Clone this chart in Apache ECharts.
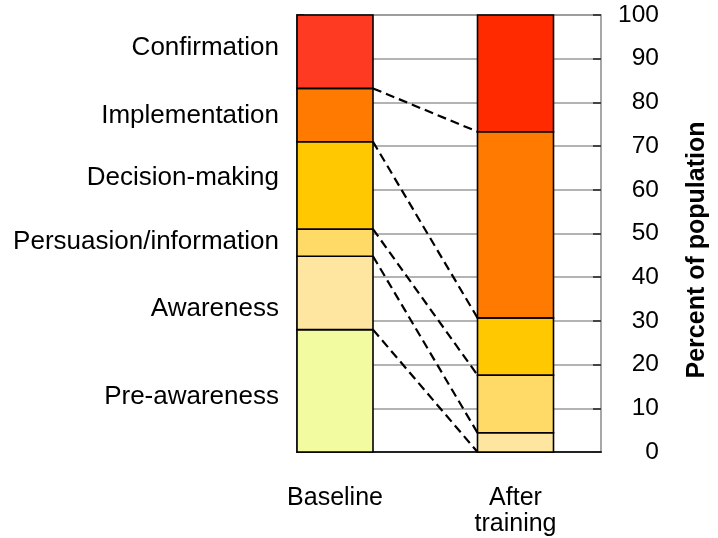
<!DOCTYPE html>
<html><head><meta charset="utf-8">
<script src="https://cdn.jsdelivr.net/npm/echarts@6/dist/echarts.min.js"></script>
<style>html,body{margin:0;padding:0;background:#fff}#c{width:718px;height:538px}</style>
</head><body><div id="c"></div>
<script>
// ---- data ----
const stages = ['Pre-awareness', 'Awareness', 'Persuasion/information', 'Decision-making', 'Implementation', 'Confirmation'];
const groups = ['Baseline', 'After\ntraining'];
const baseline = [28, 16.8, 6.2, 20, 12.2, 16.8];
const afterTraining = [0, 4.4, 13.2, 13.1, 42.6, 26.7];
const yAxisTitle = 'Percent of population';

// ---- styles / layout ----
const baselineColors = ['#F3FBA0', '#FFE6A0', '#FFDA66', '#FFC800', '#FF7A00', '#FF3A22'];
const afterColors = ['#F3FBA0', '#FFE6A0', '#FFDA66', '#FFC800', '#FF7A00', '#FF2A00'];
const labelOffsets = [6, 16, -1, -8, 1, -4];
const groupX = [1, 5.75];
const barHalf = 1;
const FONT = 'Liberation Sans';

const cum = arr => arr.reduce((acc, v) => { acc.push((acc.length ? acc[acc.length - 1] : 0) + v); return acc; }, []);
const cumB = cum(baseline), cumA = cum(afterTraining);

const series = [];
stages.forEach((name, i) => {
  const loB = i ? cumB[i - 1] : 0, loA = i ? cumA[i - 1] : 0;
  const colors = [baselineColors[i], afterColors[i]];
  series.push({
    type: 'custom', name, z: 2,
    encode: { x: 0, y: [1, 2] },
    data: [[groupX[0], loB, cumB[i]], [groupX[1], loA, cumA[i]]],
    renderItem: (params, api) => {
      const x = api.value(0), lo = api.value(1), hi = api.value(2);
      const p1 = api.coord([x - barHalf, hi]);
      const p2 = api.coord([x + barHalf, lo]);
      const children = [{
        type: 'rect',
        shape: { x: p1[0], y: p1[1], width: p2[0] - p1[0], height: p2[1] - p1[1] },
        style: { fill: colors[params.dataIndex], stroke: '#000', lineWidth: 1.6 }
      }];
      if (params.dataIndex === 0) {
        children.push({
          type: 'text',
          x: p1[0] - 18, y: (p1[1] + p2[1]) / 2 + labelOffsets[i],
          style: { text: name, fontSize: 26, fontFamily: FONT, fill: '#000', align: 'right', verticalAlign: 'middle' }
        });
      }
      return { type: 'group', children };
    }
  });
});
// dashed connectors between matching stage boundaries
for (let k = 0; k < stages.length - 1; k++) {
  series.push({
    type: 'line', symbol: 'none', silent: true, z: 5,
    lineStyle: { color: '#000', width: 2.2, type: [9, 5] },
    data: [[groupX[0] + barHalf, cumB[k]], [groupX[1] - barHalf, cumA[k]]]
  });
}

const chart = echarts.init(document.getElementById('c'));
chart.setOption({
  animation: false,
  backgroundColor: '#fff',
  grid: { left: 297, right: 117, top: 15, bottom: 86, show: true, borderColor: '#8a8a8a', borderWidth: 1.5 },
  xAxis: {
    type: 'value', min: 0, max: 8,
    axisLine: { show: true, lineStyle: { color: '#222', width: 2 } },
    axisTick: { show: false }, splitLine: { show: false },
    axisLabel: {
      customValues: groupX, margin: 33, fontSize: 25, lineHeight: 26, fontFamily: FONT, color: '#000',
      formatter: v => (v === groupX[0] ? groups[0] : v === groupX[1] ? groups[1] : '')
    }
  },
  yAxis: [
    {
      type: 'value', position: 'right', min: 0, max: 100, interval: 10,
      axisLine: { show: true, lineStyle: { color: '#777', width: 2 } },
      axisTick: { show: true, length: 7, lineStyle: { color: '#222', width: 1.5 } },
      axisLabel: { margin: 58, align: 'right', fontSize: 24.5, fontFamily: FONT, color: '#000' },
      splitLine: { show: true, lineStyle: { color: '#9a9a9a', width: 1.5 } }
    },
    {
      type: 'value', position: 'right', min: 0, max: 100, interval: 10,
      axisLine: { show: false },
      axisTick: { show: true, inside: true, length: 8, lineStyle: { color: '#222', width: 1.5 } },
      axisLabel: { show: false }, splitLine: { show: false }
    }
  ],
  graphic: [{
    type: 'text', x: 697, y: 250, rotation: Math.PI / 2,
    style: { text: yAxisTitle, fontSize: 25, fontWeight: 'bold', fontFamily: FONT, fill: '#000', align: 'center', verticalAlign: 'middle' }
  }],
  series
});
</script></body></html>
